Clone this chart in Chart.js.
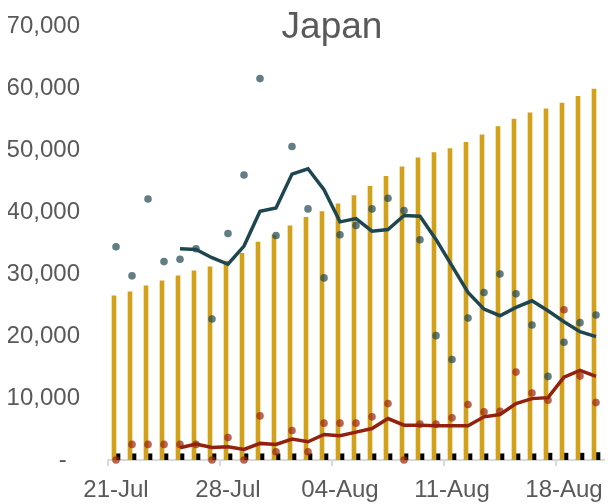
<!DOCTYPE html>
<html>
<head>
<meta charset="utf-8">
<script src="https://cdn.jsdelivr.net/npm/chart.js@4"></script>
<style>
  html, body { margin: 0; padding: 0; background: #ffffff; }
  #wrap { width: 610px; height: 504px; }
</style>
</head>
<body>
<div id="wrap"><canvas id="japanChart" width="610" height="504"></canvas></div>
<script>
// Chart data
const dates = ["21-Jul", "22-Jul", "23-Jul", "24-Jul", "25-Jul", "26-Jul", "27-Jul", "28-Jul", "29-Jul", "30-Jul", "31-Jul",
  "01-Aug", "02-Aug", "03-Aug", "04-Aug", "05-Aug", "06-Aug", "07-Aug", "08-Aug", "09-Aug", "10-Aug",
  "11-Aug", "12-Aug", "13-Aug", "14-Aug", "15-Aug", "16-Aug", "17-Aug", "18-Aug", "19-Aug", "20-Aug"];
const goldBars = [26480, 27120, 28090, 28890, 29700, 30500, 31140, 32100, 33340, 35150, 36270, 37770, 39160, 40070, 41300,
  42640, 44140, 45740, 47290, 48740, 49590, 50240, 51250, 52430, 53770, 55000, 56010, 56650, 57570, 58640, 59820];
const blackBars = [1000, 1000, 1000, 1000, 1000, 1000, 1000, 1000, 1000, 1000, 1000, 1000, 1000, 1000, 1000,
  1000, 1000, 1000, 1000, 1000, 1000, 1000, 1000, 1000, 1000, 1000, 1000, 1100, 1100, 1100, 1200];
const dailyDots = [34400, 29700, 42100, 32000, 32370, 34080, 22740, 36540, 45960, 61520, 36220, 50560, 40500, 29370, 36330,
  37820, 40500, 42210, 40230, 35520, 20060, 16210, 22900, 27020, 30010, 26800, 21770, 13480, 18990, 22150, 23380];
const dailyAvg = [null, null, null, null, 34080, 33970, 32630, 31570, 34510, 40130, 40660, 46120, 46980, 43600, 38410,
  38950, 36915, 37180, 39430, 39320, 35580, 31300, 27020, 24340, 23270, 24610, 25680, 24080, 22310, 20700, 19900];
const redDots = [0, 2520, 2520, 2520, 2520, 2520, 0, 3640, 0, 7110, 1340, 4760, 1340, 5940, 5940,
  5940, 6960, 9100, 0, 5780, 5780, 6800, 8940, 7760, 7860, 14180, 10800, 9630, 24240, 13530, 9260];
const redAvg = [null, null, null, null, 1980, 2570, 2030, 2140, 1710, 2680, 2520, 3370, 2940, 4120, 3910,
  4500, 5080, 6690, 5620, 5620, 5510, 5510, 5510, 6960, 7330, 9100, 9900, 10060, 13370, 14450, 13480];
const yTicks = [0, 10000, 20000, 30000, 40000, 50000, 60000, 70000];

const FONT = "'Liberation Sans', Arial, sans-serif";
const TEXT = "#595959";

// Title drawn over the plot, like the original
const titlePlugin = {
  id: "overlayTitle",
  afterDraw(chart) {
    const c = chart.ctx;
    c.save();
    c.font = "37px " + FONT;
    c.fillStyle = TEXT;
    c.textAlign = "center";
    c.textBaseline = "alphabetic";
    c.fillText("Japan", 332, 38);
    c.restore();
  },
};

const ctx = document.getElementById("japanChart").getContext("2d");
new Chart(ctx, {
  type: "bar",
  data: {
    labels: dates,
    datasets: [
      {
        type: "line",
        label: "7-day avg",
        data: dailyAvg,
        borderColor: "#1e4650",
        borderWidth: 3.5,
        pointRadius: 0,
        tension: 0,
        order: 0,
      },
      {
        type: "line",
        label: "red avg",
        data: redAvg,
        borderColor: "#92220f",
        borderWidth: 3.5,
        pointRadius: 0,
        tension: 0,
        order: 0,
      },
      {
        type: "line",
        label: "daily",
        data: dailyDots,
        showLine: false,
        pointRadius: 3.8,
        pointBorderWidth: 0,
        pointBackgroundColor: "rgba(31, 70, 80, 0.7)",
        clip: false,
        order: 1,
      },
      {
        type: "line",
        label: "red daily",
        data: redDots,
        showLine: false,
        pointRadius: 3.8,
        pointBorderWidth: 0,
        pointBackgroundColor: "rgba(160, 40, 15, 0.72)",
        clip: false,
        order: 1,
      },
      {
        label: "gold",
        data: goldBars,
        backgroundColor: "#d1a11b",
        barThickness: 4,
        order: 2,
      },
      {
        label: "black",
        data: blackBars,
        backgroundColor: "#000000",
        barThickness: 4,
        order: 2,
      },
    ],
  },
  options: {
    responsive: false,
    animation: false,
    layout: { padding: { left: 8, right: 6, top: 26, bottom: 0 } },
    plugins: {
      legend: { display: false },
      tooltip: { enabled: false },
      title: { display: false },
    },
    scales: {
      x: {
        offset: true,
        afterFit: (axis) => {
          axis.height = 44;
          axis.paddingLeft = 0;
          axis.paddingRight = 0;
        },
        grid: {
          offset: true,
          drawOnChartArea: false,
          drawTicks: true,
          tickLength: 6,
          lineWidth: 2,
          color: (c) => (c.index % 7 === 0 ? "#d9d9d9" : "rgba(0,0,0,0)"),
        },
        border: { display: true, color: "#d9d9d9", width: 2 },
        ticks: {
          autoSkip: false,
          maxRotation: 0,
          padding: 10,
          color: TEXT,
          font: { family: FONT, size: 24 },
          callback: function (val, idx) {
            return idx % 7 === 0 ? dates[idx] : "";
          },
        },
      },
      y: {
        min: 0,
        max: 70000,
        afterBuildTicks: (axis) => {
          axis.ticks = yTicks.map((v) => ({ value: v }));
        },
        afterFit: (axis) => {
          axis.width = 100;
          axis.paddingTop = 0;
          axis.paddingBottom = 0;
        },
        grid: { display: false, drawTicks: false },
        border: { display: false },
        ticks: {
          padding: 28,
          color: TEXT,
          font: { family: FONT, size: 24 },
          callback: function (value) {
            return value === 0 ? "-  " : value.toLocaleString("en-US");
          },
        },
      },
    },
  },
  plugins: [titlePlugin],
});
</script>
</body>
</html>
